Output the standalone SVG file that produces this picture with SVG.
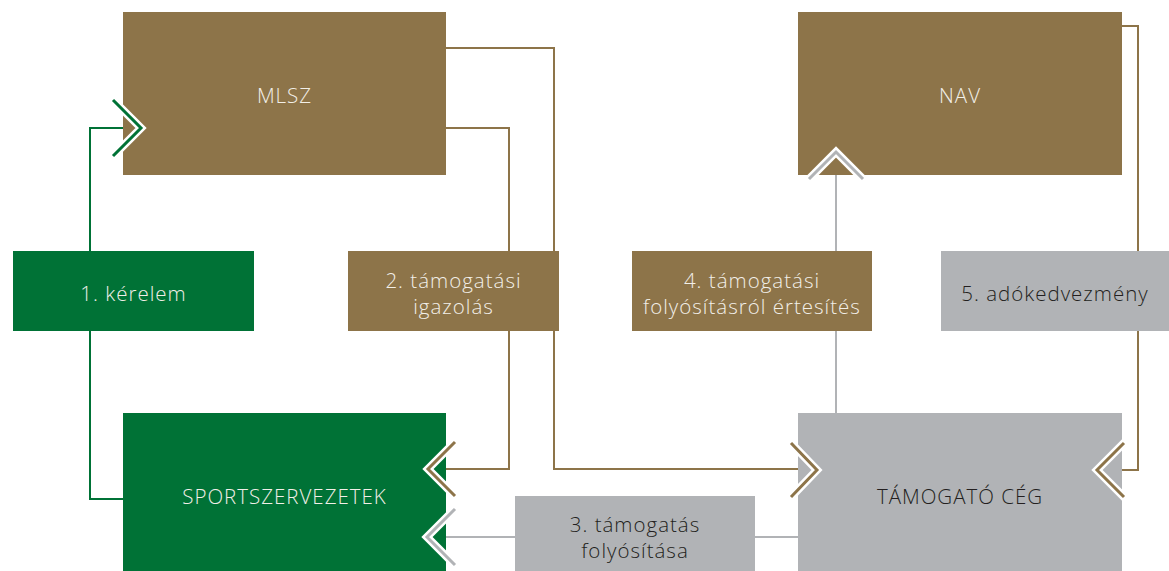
<svg xmlns="http://www.w3.org/2000/svg" width="1169" height="571" viewBox="0 0 1169 571">
<defs>
<style>
.brown{fill:#8d7449}
.green{fill:#007236}
.grey{fill:#b1b3b6}
.tl{font-family:"Open Sans","Liberation Sans",sans-serif;font-weight:300;font-size:20.5px;letter-spacing:1px;text-anchor:middle}
.w{fill:#f2efe8}
.d{fill:#231f20}
.ln{fill:none;stroke-width:2}
.lb{stroke:#8d7449}
.lg{stroke:#007236}
.ly{stroke:#b1b3b6}
.halo{fill:none;stroke:#ffffff;stroke-width:8;stroke-linecap:square;stroke-linejoin:miter}
.chev{fill:none;stroke-width:3;stroke-linejoin:miter}
</style>
</defs>
<rect width="1169" height="571" fill="#ffffff"/>
<g id="connectors">
<polyline class="ln lg" points="90,251 90,128 140,128"/>
<polyline class="ln lg" points="90,331 90,499 123,499"/>
<polyline class="ln lb" points="446,48 554,48 554,251"/>
<polyline class="ln lb" points="446,128 509,128 509,251"/>
<polyline class="ln lb" points="509,331 509,469 430,469"/>
<polyline class="ln lb" points="554,331 554,469 815,469"/>
<polyline class="ln ly" points="836,413 836,331"/>
<polyline class="ln ly" points="836,251 836,155"/>
<polyline class="ln lb" points="1122,26 1138,26 1138,251"/>
<polyline class="ln lb" points="1138,331 1138,470 1100,470"/>
<polyline class="ln ly" points="798,537 755,537"/>
<polyline class="ln ly" points="515,537 428,537"/>
</g>
<g id="mlsz"><rect class="brown" x="123" y="12" width="323" height="163"/><text class="tl w" x="284.5" y="103">MLSZ</text></g>
<g id="nav"><rect class="brown" x="798" y="12" width="324" height="163"/><text class="tl w" x="960" y="103">NAV</text></g>
<g id="sportszervezetek"><rect class="green" x="123" y="413" width="323" height="158"/><text class="tl w" x="284.5" y="504">SPORTSZERVEZETEK</text></g>
<g id="tamogato"><rect class="grey" x="798" y="413" width="324" height="158"/><text class="tl d" x="960" y="504">TÁMOGATÓ CÉG</text></g>
<g id="kerelem"><rect class="green" x="13" y="251" width="241" height="80"/><text class="tl w" x="133.5" y="301">1. kérelem</text></g>
<g id="igazolas"><rect class="brown" x="348" y="251" width="211" height="80"/><text class="tl w" x="453.5" y="288">2. támogatási</text><text class="tl w" x="453.5" y="314">igazolás</text></g>
<g id="ertesites"><rect class="brown" x="632" y="251" width="240" height="80"/><text class="tl w" x="752" y="288">4. támogatási</text><text class="tl w" x="752" y="314">folyósításról értesítés</text></g>
<g id="adokedvezmeny"><rect class="grey" x="941" y="251" width="228" height="80"/><text class="tl d" x="1055" y="301">5. adókedvezmény</text></g>
<g id="folyositas"><rect class="grey" x="515" y="496" width="240" height="75"/><text class="tl d" x="635" y="532">3. támogatás</text><text class="tl d" x="635" y="558">folyósítása</text></g>
<g id="arrowheads">
<polyline class="halo" points="113,100 141,128 113,156"/>
<polyline class="chev" stroke="#007236" points="113,100 141,128 113,156"/>
<polyline class="halo" points="455,442 428,469 455,496"/>
<polyline class="chev" stroke="#8d7449" points="455,442 428,469 455,496"/>
<polyline class="halo" points="791,443 817,470 791,497"/>
<polyline class="chev" stroke="#8d7449" points="791,443 817,470 791,497"/>
<polyline class="halo" points="809,179 836,152 863,179"/>
<polyline class="chev" stroke="#b1b3b6" points="809,179 836,152 863,179"/>
<polyline class="halo" points="1124,443 1097,470 1124,497"/>
<polyline class="chev" stroke="#8d7449" points="1124,443 1097,470 1124,497"/>
<polyline class="halo" points="455,509 427,537 455,565"/>
<polyline class="chev" stroke="#b1b3b6" points="455,509 427,537 455,565"/>
</g>
</svg>
